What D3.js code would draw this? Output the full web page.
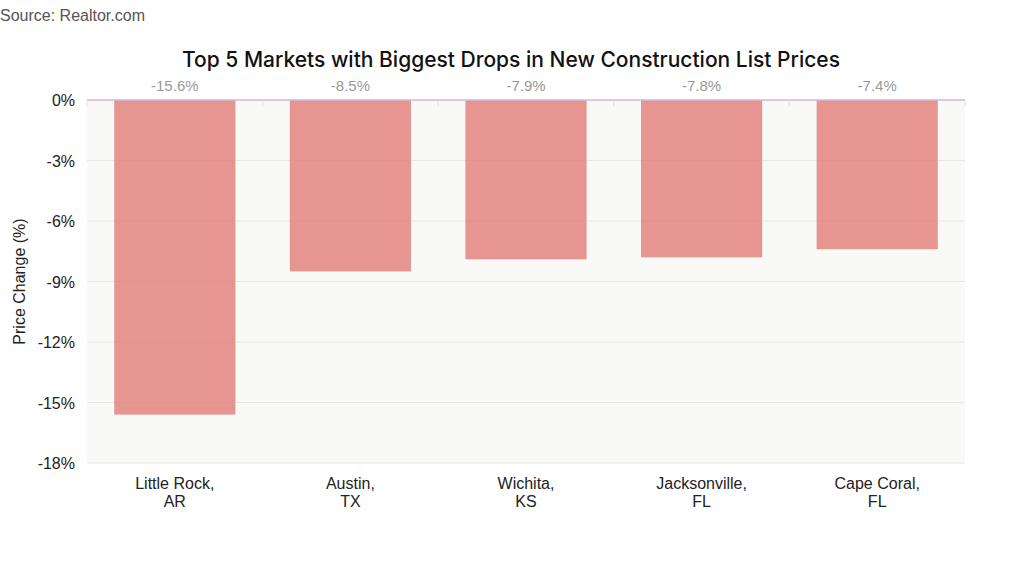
<!DOCTYPE html>
<html><head><meta charset="utf-8">
<script src="https://cdn.jsdelivr.net/npm/d3@7"></script>
<style>body{margin:0;background:#fff;font-family:"Liberation Sans",Arial,sans-serif}</style>
</head><body><svg id="c" width="1023" height="579"></svg>
<script>
const categories = ["Little Rock,\nAR","Austin,\nTX","Wichita,\nKS","Jacksonville,\nFL","Cape Coral,\nFL"];
const values = [-15.6,-8.5,-7.9,-7.8,-7.4];
const yTicks = [0,-3,-6,-9,-12,-15,-18];

const svg = d3.select("#c");
const L=87,R=965,T=100,B=463;
const x = d3.scaleBand().domain(categories).range([L,R]).paddingInner(0.31).paddingOuter(0.155);
const y = d3.scaleLinear().domain([-18,0]).range([B,T]);

svg.append("text").attr("x",0).attr("y",21).attr("font-size",16).attr("fill","#555").text("Source: Realtor.com");
svg.append("text").attr("x",511).attr("y",67).attr("text-anchor","middle").attr("font-size",21).attr("font-weight",500).attr("fill","#111").attr("font-family","Inter, sans-serif").text("Top 5 Markets with Biggest Drops in New Construction List Prices");

svg.append("rect").attr("x",L).attr("y",T).attr("width",R-L).attr("height",B-T).attr("fill","#f9f9f7");
svg.selectAll(".g").data(yTicks.filter(d=>d!==0)).join("line")
 .attr("x1",L).attr("x2",R).attr("y1",d=>y(d)).attr("y2",d=>y(d)).attr("stroke","#e6e6e6");
svg.selectAll(".yl").data(yTicks).join("text")
 .attr("x",L-12).attr("y",d=>y(d)+6).attr("text-anchor","end").attr("font-size",16).attr("fill","#222")
 .text(d=>d+"%");
svg.append("text").attr("transform",`translate(25,${(T+B)/2}) rotate(-90)`).attr("text-anchor","middle")
 .attr("font-size",16).attr("fill","#222").text("Price Change (%)");

svg.selectAll(".bar").data(values).join("rect")
 .attr("x",(d,i)=>x(categories[i])).attr("width",x.bandwidth())
 .attr("y",y(0)).attr("height",d=>y(d)-y(0)).attr("fill","#e38581").attr("opacity",0.87);
svg.append("line").attr("x1",L).attr("x2",R).attr("y1",y(0)).attr("y2",y(0)).attr("stroke","#d6b6d6").attr("stroke-width",1.5);
const step=x.step();
svg.selectAll(".tk").data(d3.range(6)).join("line")
 .attr("x1",i=>L+i*step).attr("x2",i=>L+i*step).attr("y1",y(0)).attr("y2",y(0)+6).attr("stroke","#e0e0e0");
svg.selectAll(".vl").data(values).join("text")
 .attr("x",(d,i)=>x(categories[i])+x.bandwidth()/2).attr("y",T-9).attr("text-anchor","middle")
 .attr("font-size",15).attr("fill","#999").text(d=>d.toFixed(1)+"%");
categories.forEach((c,i)=>{
 const t=svg.append("text").attr("text-anchor","middle").attr("font-size",16).attr("fill","#222");
 c.split("\n").forEach((s,j)=>t.append("tspan").attr("x",x(c)+x.bandwidth()/2).attr("y",B+26+j*18).text(s));
});
</script></body></html>
